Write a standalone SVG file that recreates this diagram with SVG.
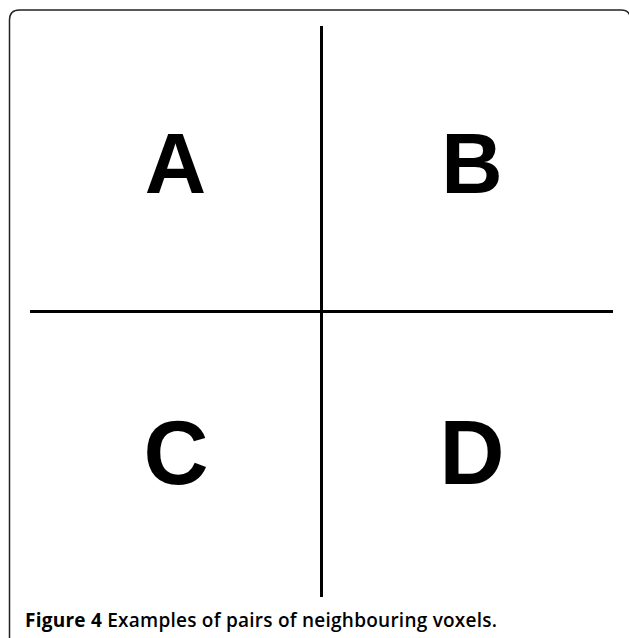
<svg xmlns="http://www.w3.org/2000/svg" width="629" height="638" viewBox="0 0 629 638">
<style>
.lbl{font-family:"Liberation Sans",Arial,sans-serif;font-weight:bold;fill:#000;text-anchor:middle}
.ln{stroke:#000;stroke-width:3;fill:none}
.cap{font-family:"Open Sans","Noto Sans",sans-serif;font-size:19px;font-weight:600;fill:#000}
</style>
<rect x="0" y="0" width="629" height="638" fill="#fff"/>
<path id="frame" d="M9.5,645 L9.5,20 Q9.5,10 19.5,10 L621,10 Q630.5,10 630.5,19.5 L630.5,645" fill="none" stroke="#222" stroke-width="1.5"/>
<g id="connectors">
<line class="ln" x1="321.5" y1="26" x2="321.5" y2="597"/>
<line class="ln" x1="30" y1="311.5" x2="613" y2="311.5"/>
</g>
<g id="A"><text class="lbl" x="175.5" y="193" font-size="85">A</text></g>
<g id="B"><text class="lbl" x="472" y="193" font-size="85">B</text></g>
<g id="C"><text class="lbl" x="176" y="484" font-size="90">C</text></g>
<g id="D"><text class="lbl" x="472" y="484" font-size="90">D</text></g>
<g id="caption"><text class="cap" x="25" y="627" textLength="472" lengthAdjust="spacing"><tspan font-weight="bold">Figure 4</tspan> Examples of pairs of neighbouring voxels.</text></g>
</svg>
